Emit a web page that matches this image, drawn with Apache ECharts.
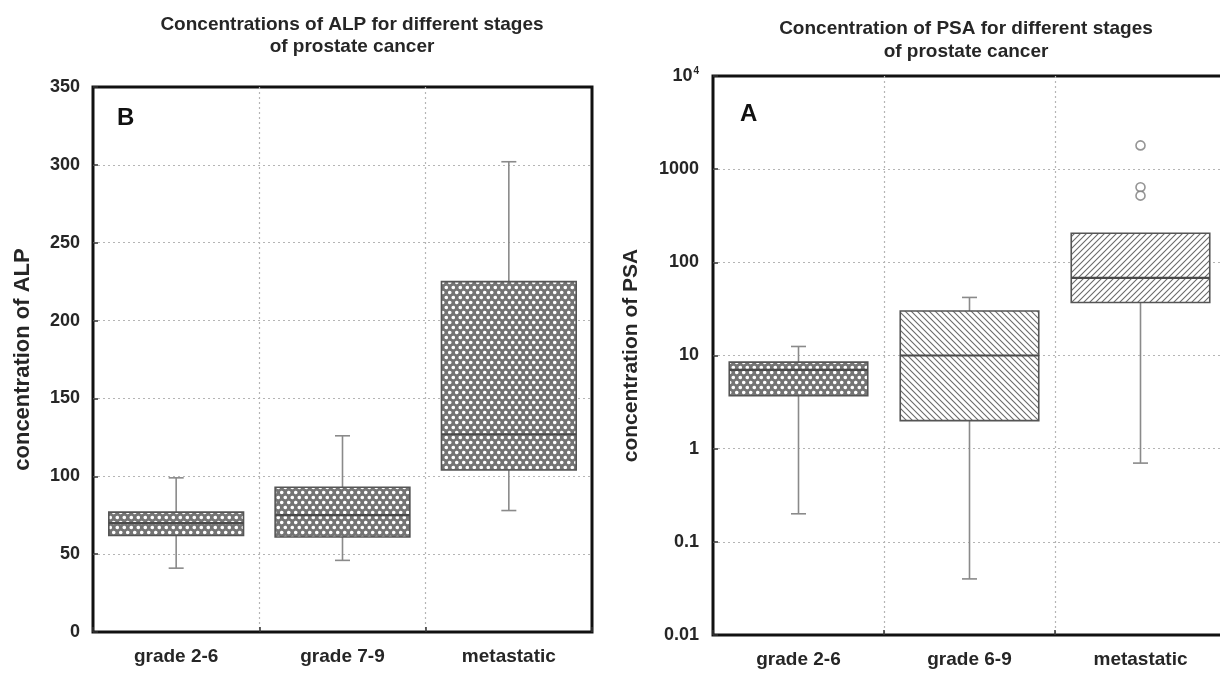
<!DOCTYPE html>
<html>
<head>
<meta charset="utf-8">
<script src="https://cdn.jsdelivr.net/npm/echarts@6/dist/echarts.min.js"></script>
<style>
html,body{margin:0;padding:0;background:#fff;}
#c{width:1220px;height:673px;}
</style>
</head>
<body>
<div id="c"></div>
<script>
// ---- data: ALP (panel B) ----
const alpCategories = ['grade 2-6', 'grade 7-9', 'metastatic'];
const alpMin    = [41, 46, 78];
const alpQ1     = [62, 61, 104];
const alpMedian = [70, 75, 127];
const alpQ3     = [77, 93, 225];
const alpMax    = [99, 126, 302];
const alpTicks  = [0, 50, 100, 150, 200, 250, 300, 350];

// ---- data: PSA (panel A) ----
const psaCategories = ['grade 2-6', 'grade 6-9', 'metastatic'];
const psaMin    = [0.2, 0.04, 0.7];
const psaQ1     = [3.7, 2.0, 37];
const psaMedian = [7, 10, 68];
const psaQ3     = [8.5, 30, 205];
const psaMax    = [12.5, 42, 205];
const psaOutlierCat = [2, 2, 2];
const psaOutlierVal = [1800, 640, 520];
const psaTicks = [0.01, 0.1, 1, 10, 100, 1000, 10000];

// ---- styles ----
const FONT = "'Liberation Sans', Arial, sans-serif";
const TXT = '#262626';
const alpFills = ['dots', 'dots', 'dots'];
const psaFills = ['dots', 'hatchBack', 'hatchFwd'];

function makePattern(kind) {
  const c = document.createElement('canvas');
  const ctx = c.getContext('2d');
  if (kind === 'dots') {
    c.width = 7; c.height = 10;
    ctx.fillStyle = '#747474';
    ctx.fillRect(0, 0, 7, 10);
    ctx.fillStyle = '#ffffff';
    ctx.beginPath(); ctx.arc(1.75, 2.5, 1.8, 0, Math.PI * 2); ctx.fill();
    ctx.beginPath(); ctx.arc(5.25, 7.5, 1.8, 0, Math.PI * 2); ctx.fill();
  } else {
    c.width = 6; c.height = 6;
    ctx.fillStyle = '#ffffff';
    ctx.fillRect(0, 0, 6, 6);
    ctx.strokeStyle = '#6a6a6a';
    ctx.lineWidth = 1.1;
    ctx.beginPath();
    if (kind === 'hatchBack') {
      ctx.moveTo(-1, -1); ctx.lineTo(7, 7);
      ctx.moveTo(-1, 5); ctx.lineTo(1, 7);
      ctx.moveTo(5, -1); ctx.lineTo(7, 1);
    } else {
      ctx.moveTo(-1, 7); ctx.lineTo(7, -1);
      ctx.moveTo(-1, 1); ctx.lineTo(1, -1);
      ctx.moveTo(5, 7); ctx.lineTo(7, 5);
    }
    ctx.stroke();
  }
  return { image: c, repeat: 'repeat' };
}
const patterns = {
  dots: makePattern('dots'),
  hatchBack: makePattern('hatchBack'),
  hatchFwd: makePattern('hatchFwd')
};

function boxData(mins, q1s, meds, q3s, maxs) {
  return mins.map((m, i) => [i, m, q1s[i], meds[i], q3s[i], maxs[i]]);
}

function boxRenderer(fills) {
  return function (params, api) {
    const i = api.value(0);
    const vMin = api.value(1), vQ1 = api.value(2), vMed = api.value(3), vQ3 = api.value(4), vMax = api.value(5);
    const pMin = api.coord([i, vMin]);
    const pQ1 = api.coord([i, vQ1]);
    const pMed = api.coord([i, vMed]);
    const pQ3 = api.coord([i, vQ3]);
    const pMax = api.coord([i, vMax]);
    const band = api.coord([1, vMed])[0] - api.coord([0, vMed])[0];
    const xc = pMed[0];
    const bw = band * 0.81;
    const cap = 15;
    const wStyle = { stroke: '#8a8a8a', lineWidth: 1.6 };
    const children = [];
    if (vMax > vQ3) {
      children.push({ type: 'line', shape: { x1: xc, y1: pQ3[1], x2: xc, y2: pMax[1] }, style: wStyle });
      children.push({ type: 'line', shape: { x1: xc - cap / 2, y1: pMax[1], x2: xc + cap / 2, y2: pMax[1] }, style: wStyle });
    }
    if (vMin < vQ1) {
      children.push({ type: 'line', shape: { x1: xc, y1: pQ1[1], x2: xc, y2: pMin[1] }, style: wStyle });
      children.push({ type: 'line', shape: { x1: xc - cap / 2, y1: pMin[1], x2: xc + cap / 2, y2: pMin[1] }, style: wStyle });
    }
    children.push({
      type: 'rect',
      shape: { x: xc - bw / 2, y: pQ3[1], width: bw, height: pQ1[1] - pQ3[1] },
      style: { fill: patterns[fills[params.dataIndex]], stroke: '#555555', lineWidth: 1.6 }
    });
    children.push({
      type: 'line',
      shape: { x1: xc - bw / 2, y1: pMed[1], x2: xc + bw / 2, y2: pMed[1] },
      style: { stroke: '#4a4a4a', lineWidth: 2.2 }
    });
    return { type: 'group', children: children };
  };
}

const dotted = { color: '#b5b5b5', type: [2, 3], width: 1.2 };
const tickLbl = { fontFamily: FONT, fontWeight: 'bold', fontSize: 18, color: TXT };
const catLbl = { fontFamily: FONT, fontWeight: 'bold', fontSize: 19, color: TXT };
const splitCommon = { show: true, showMinLine: false, showMaxLine: false, lineStyle: dotted };

const chart = echarts.init(document.getElementById('c'), null, { renderer: 'canvas' });
chart.setOption({
  animation: false,
  backgroundColor: '#ffffff',
  title: [
    {
      text: 'Concentrations of ALP for different stages\nof prostate cancer',
      left: 347, top: 9, textAlign: 'center',
      textStyle: { fontFamily: FONT, fontWeight: 'bold', fontSize: 19, lineHeight: 22, color: TXT }
    },
    {
      text: 'Concentration of PSA for different stages\nof prostate cancer',
      left: 961, top: 12, textAlign: 'center',
      textStyle: { fontFamily: FONT, fontWeight: 'bold', fontSize: 19, lineHeight: 23, color: TXT }
    }
  ],
  graphic: [
    { type: 'text', left: 117, top: 106, style: { text: 'B', font: 'bold 24px ' + FONT, fill: '#111' } },
    { type: 'text', left: 740, top: 102, style: { text: 'A', font: 'bold 24px ' + FONT, fill: '#111' } }
  ],
  grid: [
    { left: 93, top: 87, width: 499, height: 545, show: true, borderColor: '#111', borderWidth: 3, backgroundColor: 'transparent', outerBoundsMode: 'none', containLabel: false },
    { left: 713, top: 76, width: 513, height: 559, show: true, borderColor: '#111', borderWidth: 3, backgroundColor: 'transparent', outerBoundsMode: 'none', containLabel: false }
  ],
  xAxis: [
    {
      type: 'category', gridIndex: 0, data: alpCategories,
      axisLine: { show: false },
      axisTick: { show: true, inside: true, length: 5, lineStyle: { color: '#333', width: 1.5 } },
      axisLabel: Object.assign({ margin: 15, interval: 0 }, catLbl),
      splitLine: Object.assign({ interval: 0 }, splitCommon)
    },
    {
      type: 'category', gridIndex: 1, data: psaCategories,
      axisLine: { show: false },
      axisTick: { show: true, inside: true, length: 5, lineStyle: { color: '#333', width: 1.5 } },
      axisLabel: Object.assign({ margin: 15, interval: 0 }, catLbl),
      splitLine: Object.assign({ interval: 0 }, splitCommon)
    }
  ],
  yAxis: [
    {
      type: 'value', gridIndex: 0, min: alpTicks[0], max: alpTicks[alpTicks.length - 1], interval: 50,
      name: 'concentration of ALP', nameLocation: 'middle', nameGap: 59,
      nameTextStyle: { fontFamily: FONT, fontWeight: 'bold', fontSize: 22, color: TXT },
      axisLine: { show: false },
      axisTick: { show: true, inside: true, length: 5, lineStyle: { color: '#333', width: 1.5 } },
      axisLabel: Object.assign({ margin: 13 }, tickLbl),
      splitLine: splitCommon
    },
    {
      type: 'log', logBase: 10, gridIndex: 1, min: psaTicks[0], max: psaTicks[psaTicks.length - 1],
      name: 'concentration of PSA', nameLocation: 'middle', nameGap: 71,
      nameTextStyle: { fontFamily: FONT, fontWeight: 'bold', fontSize: 21, color: TXT },
      axisLine: { show: false },
      axisTick: { show: true, inside: true, length: 5, lineStyle: { color: '#333', width: 1.5 } },
      axisLabel: Object.assign({
        margin: 14,
        formatter: function (v) {
          if (Math.abs(v - 10000) < 1e-6) return '{b|10}{s|4}';
          if (v < 1) return String(+v.toPrecision(3));
          return String(Math.round(v));
        },
        rich: {
          b: { fontFamily: FONT, fontWeight: 'bold', fontSize: 18, color: TXT },
          s: { fontFamily: FONT, fontWeight: 'bold', fontSize: 10, color: TXT, verticalAlign: 'top', padding: [0, 0, 10, 1] }
        }
      }, tickLbl),
      splitLine: splitCommon
    }
  ],
  series: [
    {
      type: 'custom', name: 'ALP', xAxisIndex: 0, yAxisIndex: 0,
      data: boxData(alpMin, alpQ1, alpMedian, alpQ3, alpMax),
      encode: { x: 0, y: [1, 2, 3, 4, 5] },
      renderItem: boxRenderer(alpFills), z: 3
    },
    {
      type: 'custom', name: 'PSA', xAxisIndex: 1, yAxisIndex: 1,
      data: boxData(psaMin, psaQ1, psaMedian, psaQ3, psaMax),
      encode: { x: 0, y: [1, 2, 3, 4, 5] },
      renderItem: boxRenderer(psaFills), z: 3
    },
    {
      type: 'scatter', name: 'PSA outliers', xAxisIndex: 1, yAxisIndex: 1,
      data: psaOutlierCat.map((c, i) => [c, psaOutlierVal[i]]),
      symbol: 'circle', symbolSize: 9,
      itemStyle: { color: '#ffffff', borderColor: '#7a7a7a', borderWidth: 1.6 }, z: 4
    }
  ]
});
</script>
</body>
</html>
